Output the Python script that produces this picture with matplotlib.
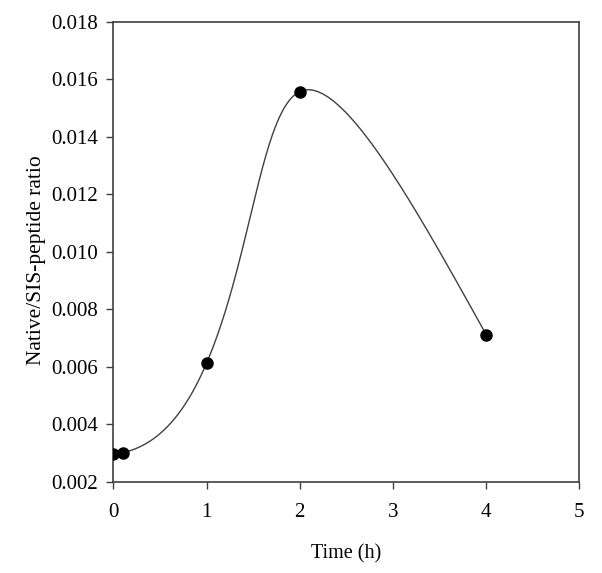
import numpy as np
import matplotlib
matplotlib.use("Agg")
import matplotlib.pyplot as plt

time_h = [0.0, 0.1, 1.0, 2.0, 4.0]
ratio = [0.00295, 0.00301, 0.00613, 0.01557, 0.00712]

x_ticks = [0, 1, 2, 3, 4, 5]
y_ticks = [0.002, 0.004, 0.006, 0.008, 0.010, 0.012, 0.014, 0.016, 0.018]


def natural_spline(t, y, ts):
    t = np.asarray(t, float)
    y = np.asarray(y, float)
    n = len(t)
    h = np.diff(t)
    A = np.zeros((n, n))
    b = np.zeros(n)
    A[0, 0] = 1
    A[-1, -1] = 1
    for i in range(1, n - 1):
        A[i, i - 1] = h[i - 1]
        A[i, i] = 2 * (h[i - 1] + h[i])
        A[i, i + 1] = h[i]
        b[i] = 3 * ((y[i + 1] - y[i]) / h[i] - (y[i] - y[i - 1]) / h[i - 1])
    c = np.linalg.solve(A, b)
    out = np.empty_like(ts)
    for k, tv in enumerate(ts):
        i = min(max(np.searchsorted(t, tv) - 1, 0), n - 2)
        dt = tv - t[i]
        bi = (y[i + 1] - y[i]) / h[i] - h[i] * (2 * c[i] + c[i + 1]) / 3
        di = (c[i + 1] - c[i]) / (3 * h[i])
        out[k] = y[i] + bi * dt + c[i] * dt ** 2 + di * dt ** 3
    return out


plt.rcParams['font.family'] = ['Liberation Serif', 'DejaVu Serif']
fig = plt.figure(figsize=(6.02, 5.73), dpi=100)
ax = fig.add_axes([0.1885, 0.1593, 0.9623 - 0.1885, 0.9621 - 0.1593])
ax.set_xlim(0, 5)
ax.set_ylim(0.002, 0.018)

# parametric spline in display space (chord-length parameter)
pts = ax.transData.transform(np.column_stack([time_h, ratio]))
seg = np.hypot(*np.diff(pts, axis=0).T)
t = np.concatenate([[0], np.cumsum(seg)])
ts = np.linspace(0, t[-1], 800)
curve_disp = np.column_stack([natural_spline(t, pts[:, 0], ts),
                              natural_spline(t, pts[:, 1], ts)])
curve = ax.transData.inverted().transform(curve_disp)
ax.plot(curve[:, 0], curve[:, 1], color='#404040', lw=1.0, zorder=2)
ax.plot(time_h, ratio, 'o', color='black', ms=8, zorder=3)

ax.set_xticks(x_ticks)
ax.set_yticks(y_ticks)
ax.set_xticklabels([str(v) for v in x_ticks])
ax.set_yticklabels([f"{v:.3f}" for v in y_ticks])
for s in ax.spines.values():
    s.set_color('#404040')
    s.set_linewidth(1.2)
ax.tick_params(axis='both', direction='out', length=5, width=1.0, color='#404040',
               labelsize=15, top=False, right=False)
ax.tick_params(axis='y', pad=6)
ax.tick_params(axis='x', pad=10)
ax.set_xlabel('Time (h)', fontsize=14.5, labelpad=16)
ax.set_ylabel('Native/SIS-peptide ratio', fontsize=15.5)
ax.yaxis.set_label_coords(-0.145, 0.482)

fig.savefig('out.png', dpi=100)
